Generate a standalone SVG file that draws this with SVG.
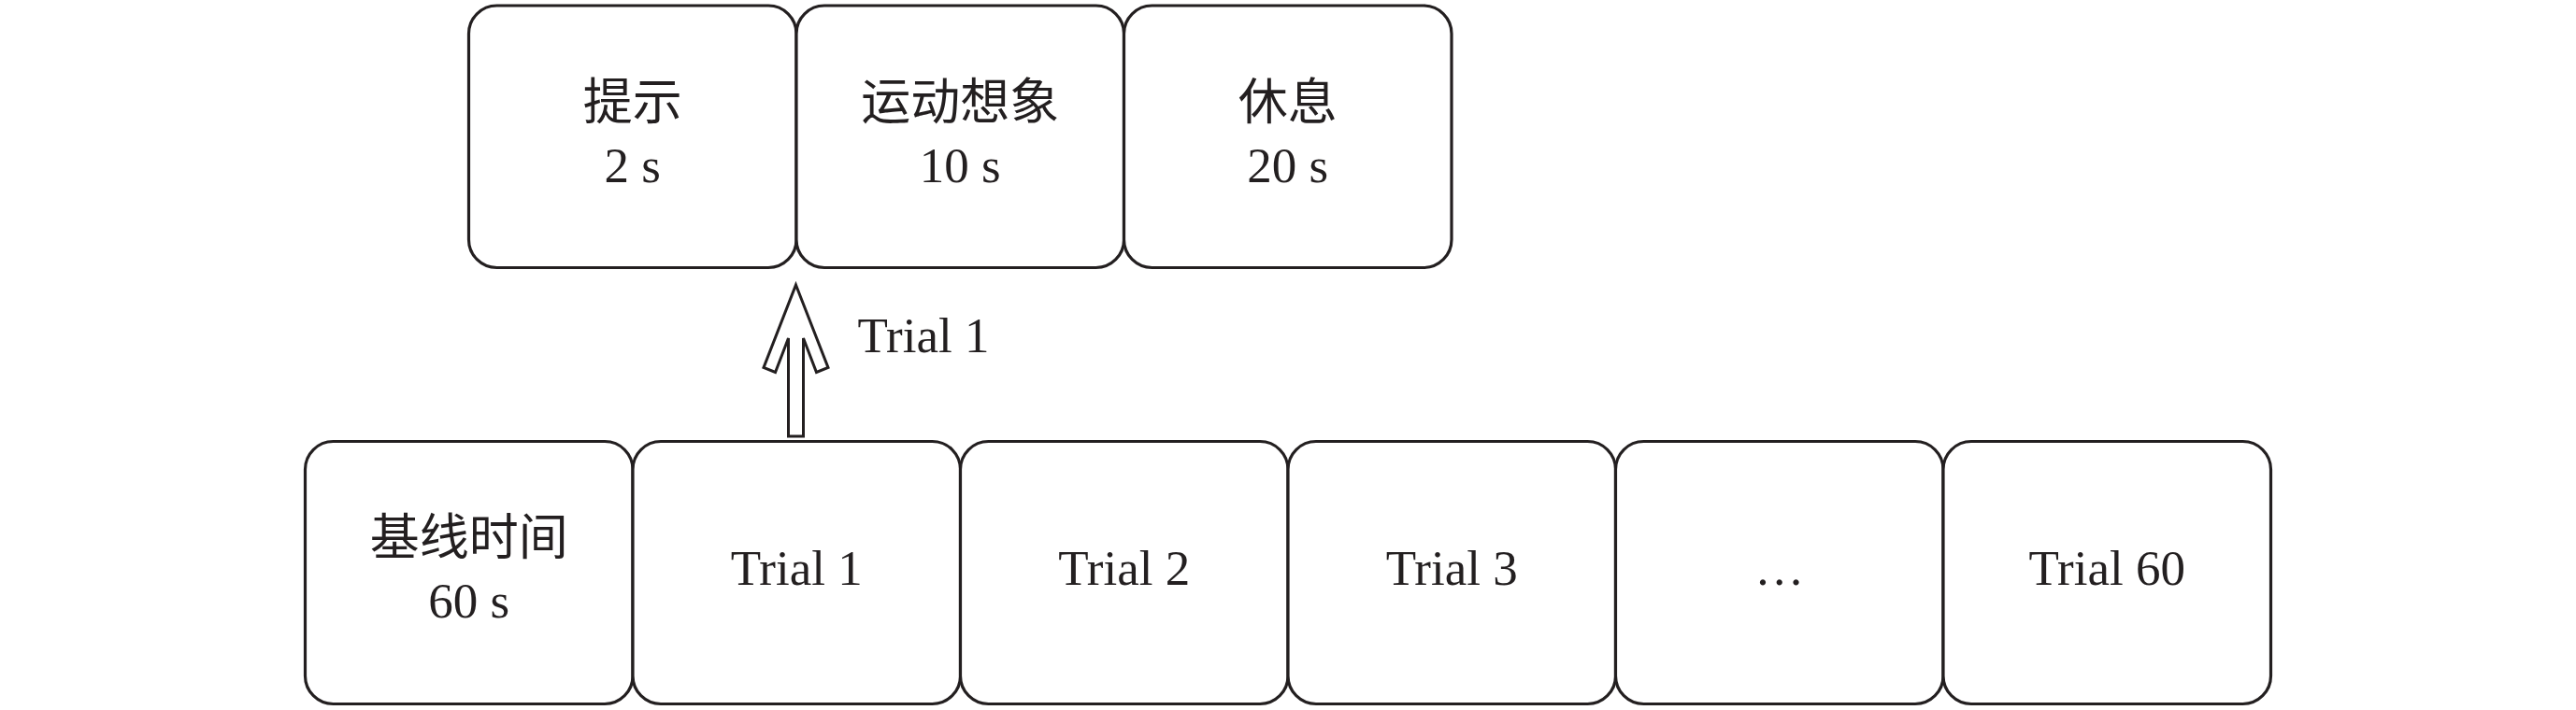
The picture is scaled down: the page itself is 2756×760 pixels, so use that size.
<svg xmlns="http://www.w3.org/2000/svg" width="2756" height="760" viewBox="0 0 2756 760">
<style>
.box{fill:#ffffff;stroke:#231f20;stroke-width:3.2}
.t{font-family:"Liberation Serif","Noto Sans CJK SC",serif;font-size:53px;fill:#231f20;text-anchor:middle}
.cjk{font-family:"Liberation Serif","Noto Sans CJK SC",serif;font-size:53px;fill:#231f20;text-anchor:middle}
.arrow{fill:#ffffff;stroke:#231f20;stroke-width:3;stroke-linejoin:miter}
</style>
<rect width="2756" height="760" fill="#ffffff"/>
<g id="cue">
<rect class="box" x="501.5" y="6" width="350.5" height="280.5" rx="30"/>
<text class="cjk" x="676.75" y="128">提示</text>
<text class="t" x="676.75" y="195">2 s</text>
</g>
<g id="motor-imagery">
<rect class="box" x="852" y="6" width="350.5" height="280.5" rx="30"/>
<text class="cjk" x="1027.25" y="128">运动想象</text>
<text class="t" x="1027.25" y="195">10 s</text>
</g>
<g id="rest">
<rect class="box" x="1202.5" y="6" width="350.5" height="280.5" rx="30"/>
<text class="cjk" x="1377.75" y="128">休息</text>
<text class="t" x="1377.75" y="195">20 s</text>
</g>
<g id="baseline">
<rect class="box" x="326.5" y="472.5" width="350.5" height="281" rx="30"/>
<text class="cjk" x="501.75" y="594">基线时间</text>
<text class="t" x="501.75" y="661">60 s</text>
</g>
<g id="trial1">
<rect class="box" x="677" y="472.5" width="350.5" height="281" rx="30"/>
<text class="t" x="852.25" y="626">Trial 1</text>
</g>
<g id="trial2">
<rect class="box" x="1027.5" y="472.5" width="350.5" height="281" rx="30"/>
<text class="t" x="1202.75" y="626">Trial 2</text>
</g>
<g id="trial3">
<rect class="box" x="1378" y="472.5" width="350.5" height="281" rx="30"/>
<text class="t" x="1553.25" y="626">Trial 3</text>
</g>
<g id="ellipsis">
<rect class="box" x="1728.5" y="472.5" width="350.5" height="281" rx="30"/>
<text class="t" x="1903.75" y="626">…</text>
</g>
<g id="trial60">
<rect class="box" x="2079" y="472.5" width="350.5" height="281" rx="30"/>
<text class="t" x="2254.25" y="626">Trial 60</text>
</g>
<g id="connectors">
<polygon class="arrow" points="851.5,305 886,393.5 873.5,398.5 859.5,362 859.5,467 843.5,467 843.5,362 829.5,398.5 817,393.5"/>
<text class="t" x="917.5" y="377" style="text-anchor:start">Trial 1</text>
</g>
</svg>
